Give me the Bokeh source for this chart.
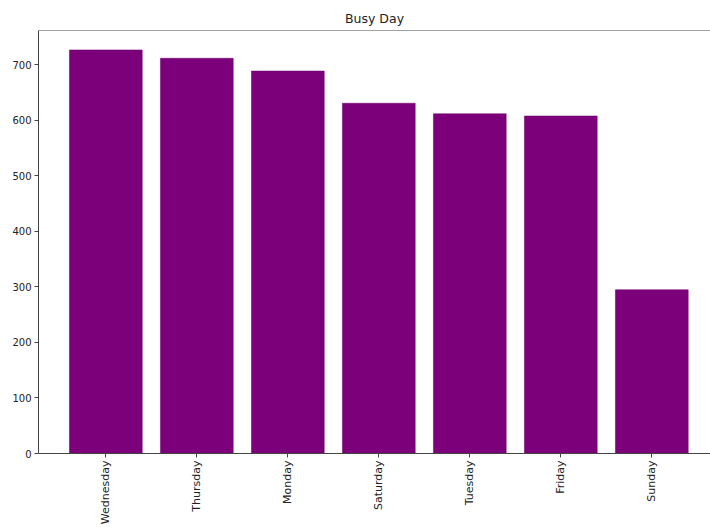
from bokeh.plotting import figure
from bokeh.models import Range1d, FixedTicker, Span
from bokeh.embed import file_html
from bokeh.resources import INLINE
import math

days = ["Wednesday", "Thursday", "Monday", "Saturday", "Tuesday", "Friday", "Sunday"]
counts = [727, 712, 689, 631, 612, 608, 295]
y_ticks = [0, 100, 200, 300, 400, 500, 600, 700]

idx = list(range(len(days)))

p = figure(width=710, height=527, output_backend="svg", toolbar_location=None,
           x_range=Range1d(-0.74, 6.645), y_range=Range1d(0, 762),
           title="Busy Day", min_border_left=38, min_border_right=0,
           min_border_top=30, min_border_bottom=74)

p.vbar(x=idx, top=counts, width=0.8,
       fill_color="#7d007b", line_color="#6a006a", line_width=0.5)

p.title.align = "center"
p.title.text_font = "DejaVu Sans"
p.title.text_font_size = "12.5px"
p.title.text_font_style = "normal"
p.title.text_color = "#222222"
p.title.offset = 8

p.xgrid.visible = False
p.ygrid.visible = False
p.outline_line_color = None

for ax in (p.xaxis, p.yaxis):
    ax.axis_line_color = "#444444"
    ax.major_tick_line_color = "#444444"
    ax.major_tick_out = 4
    ax.major_tick_in = 0
    ax.minor_tick_line_color = None
    ax.major_label_text_font = "DejaVu Sans"
    ax.major_label_text_font_size = "10px"
    ax.major_label_text_color = "#222222"
    ax.major_label_standoff = 3

p.xaxis.ticker = FixedTicker(ticks=idx)
p.xaxis.major_label_overrides = {i: d for i, d in zip(idx, days)}
p.xaxis.major_label_orientation = math.pi / 2
p.xaxis.major_label_text_font_size = "11px"
p.yaxis.ticker = FixedTicker(ticks=y_ticks)

top = Span(location=762, dimension="width", line_color="#444444", line_width=1)
p.add_layout(top)

open("out.html", "w").write(file_html(p, INLINE))
